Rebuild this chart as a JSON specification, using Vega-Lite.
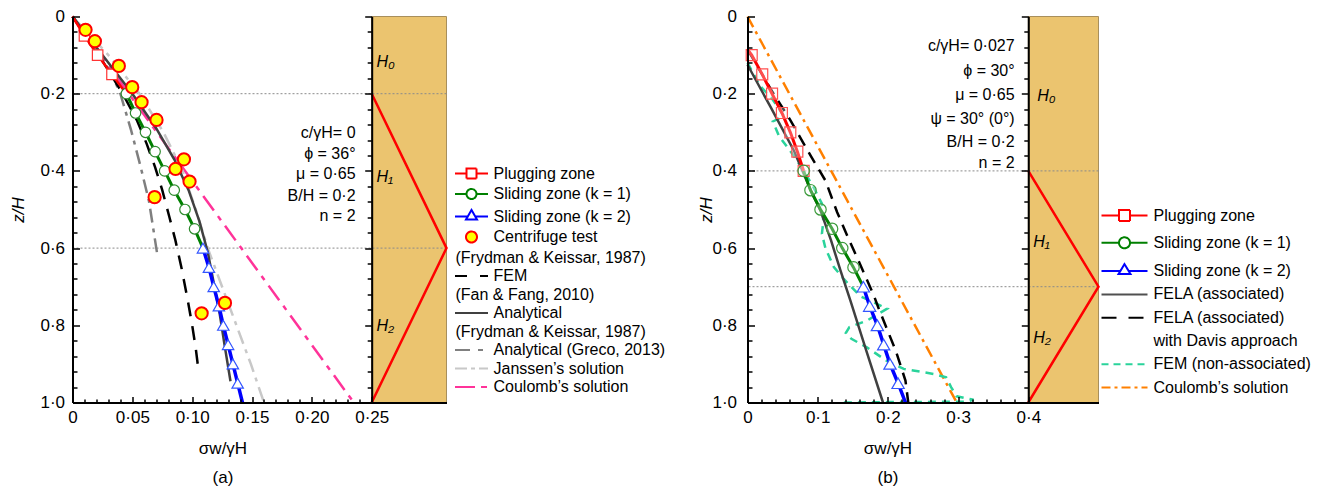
{
  "$schema": "https://vega.github.io/schema/vega-lite/v6.json",
  "background": "white",
  "padding": {"left": 9.5, "top": 7.5, "right": 5, "bottom": 5},
  "bounds": "flush",
  "spacing": 301,
  "datasets": {
    "a": [
      {"s": "plug", "x": 0, "z": 0}, {"s": "plug", "x": 0.010, "z": 0.05}, {"s": "plug", "x": 0.021, "z": 0.1}, {"s": "plug", "x": 0.033, "z": 0.15}, {"s": "plug", "x": 0.045, "z": 0.2},
      {"s": "k1", "x": 0.045, "z": 0.2}, {"s": "k1", "x": 0.0527, "z": 0.25}, {"s": "k1", "x": 0.061, "z": 0.3}, {"s": "k1", "x": 0.069, "z": 0.35}, {"s": "k1", "x": 0.077, "z": 0.4}, {"s": "k1", "x": 0.085, "z": 0.45}, {"s": "k1", "x": 0.094, "z": 0.5}, {"s": "k1", "x": 0.102, "z": 0.55}, {"s": "k1", "x": 0.109, "z": 0.6},
      {"s": "k2", "x": 0.109, "z": 0.6}, {"s": "k2", "x": 0.114, "z": 0.65}, {"s": "k2", "x": 0.118, "z": 0.7}, {"s": "k2", "x": 0.1223, "z": 0.75}, {"s": "k2", "x": 0.126, "z": 0.8}, {"s": "k2", "x": 0.130, "z": 0.85}, {"s": "k2", "x": 0.134, "z": 0.9}, {"s": "k2", "x": 0.138, "z": 0.95}, {"s": "k2", "x": 0.142, "z": 1.0},
      {"s": "cent", "x": 0.0109, "z": 0.0345}, {"s": "cent", "x": 0.0187, "z": 0.064}, {"s": "cent", "x": 0.0387, "z": 0.128}, {"s": "cent", "x": 0.0499, "z": 0.183}, {"s": "cent", "x": 0.0577, "z": 0.222}, {"s": "cent", "x": 0.0702, "z": 0.268}, {"s": "cent", "x": 0.0931, "z": 0.37}, {"s": "cent", "x": 0.0861, "z": 0.395}, {"s": "cent", "x": 0.0978, "z": 0.4275}, {"s": "cent", "x": 0.0686, "z": 0.468}, {"s": "cent", "x": 0.1274, "z": 0.742}, {"s": "cent", "x": 0.1079, "z": 0.769},
      {"s": "fem", "x": 0, "z": 0}, {"s": "fem", "x": 0.022, "z": 0.1}, {"s": "fem", "x": 0.042, "z": 0.2}, {"s": "fem", "x": 0.054, "z": 0.27}, {"s": "fem", "x": 0.062, "z": 0.33}, {"s": "fem", "x": 0.069, "z": 0.39}, {"s": "fem", "x": 0.075, "z": 0.45}, {"s": "fem", "x": 0.081, "z": 0.52}, {"s": "fem", "x": 0.086, "z": 0.58}, {"s": "fem", "x": 0.091, "z": 0.65}, {"s": "fem", "x": 0.096, "z": 0.73}, {"s": "fem", "x": 0.1, "z": 0.8}, {"s": "fem", "x": 0.103, "z": 0.86}, {"s": "fem", "x": 0.105, "z": 0.91},
      {"s": "fk", "x": 0, "z": 0}, {"s": "fk", "x": 0.025, "z": 0.1}, {"s": "fk", "x": 0.05, "z": 0.2}, {"s": "fk", "x": 0.07, "z": 0.29}, {"s": "fk", "x": 0.085, "z": 0.37}, {"s": "fk", "x": 0.097, "z": 0.45}, {"s": "fk", "x": 0.106, "z": 0.53}, {"s": "fk", "x": 0.113, "z": 0.61}, {"s": "fk", "x": 0.118, "z": 0.69}, {"s": "fk", "x": 0.123, "z": 0.77}, {"s": "fk", "x": 0.127, "z": 0.85}, {"s": "fk", "x": 0.132, "z": 0.945},
      {"s": "greco", "x": 0, "z": 0}, {"s": "greco", "x": 0.016, "z": 0.07}, {"s": "greco", "x": 0.032, "z": 0.144}, {"s": "greco", "x": 0.04, "z": 0.2}, {"s": "greco", "x": 0.049, "z": 0.295}, {"s": "greco", "x": 0.057, "z": 0.39}, {"s": "greco", "x": 0.064, "z": 0.48}, {"s": "greco", "x": 0.069, "z": 0.58}, {"s": "greco", "x": 0.071, "z": 0.62},
      {"s": "jans", "x": 0, "z": 0}, {"s": "jans", "x": 0.03, "z": 0.1}, {"s": "jans", "x": 0.056, "z": 0.2}, {"s": "jans", "x": 0.076, "z": 0.3}, {"s": "jans", "x": 0.092, "z": 0.4}, {"s": "jans", "x": 0.103, "z": 0.5}, {"s": "jans", "x": 0.113, "z": 0.6}, {"s": "jans", "x": 0.125, "z": 0.7}, {"s": "jans", "x": 0.137, "z": 0.8}, {"s": "jans", "x": 0.149, "z": 0.9}, {"s": "jans", "x": 0.16, "z": 1.0},
      {"s": "coul", "x": 0, "z": 0}, {"s": "coul", "x": 0.235, "z": 1.0}
    ],
    "b": [
      {"s": "plug", "x": 0, "z": 0.085}, {"s": "plug", "x": 0.006, "z": 0.1}, {"s": "plug", "x": 0.021, "z": 0.15}, {"s": "plug", "x": 0.035, "z": 0.2}, {"s": "plug", "x": 0.049, "z": 0.25}, {"s": "plug", "x": 0.061, "z": 0.3}, {"s": "plug", "x": 0.071, "z": 0.35}, {"s": "plug", "x": 0.080, "z": 0.4},
      {"s": "k1", "x": 0.080, "z": 0.4}, {"s": "k1", "x": 0.0897, "z": 0.45}, {"s": "k1", "x": 0.104, "z": 0.5}, {"s": "k1", "x": 0.1205, "z": 0.55}, {"s": "k1", "x": 0.135, "z": 0.6}, {"s": "k1", "x": 0.151, "z": 0.65}, {"s": "k1", "x": 0.165, "z": 0.7},
      {"s": "k2", "x": 0.165, "z": 0.7}, {"s": "k2", "x": 0.174, "z": 0.75}, {"s": "k2", "x": 0.185, "z": 0.8}, {"s": "k2", "x": 0.194, "z": 0.85}, {"s": "k2", "x": 0.203, "z": 0.9}, {"s": "k2", "x": 0.2145, "z": 0.95}, {"s": "k2", "x": 0.225, "z": 1.0},
      {"s": "fela", "x": 0, "z": 0.125}, {"s": "fela", "x": 0.033, "z": 0.235}, {"s": "fela", "x": 0.066, "z": 0.347}, {"s": "fela", "x": 0.09, "z": 0.45}, {"s": "fela", "x": 0.104, "z": 0.503}, {"s": "fela", "x": 0.119, "z": 0.58}, {"s": "fela", "x": 0.1324, "z": 0.658}, {"s": "fela", "x": 0.1466, "z": 0.736}, {"s": "fela", "x": 0.17, "z": 0.87}, {"s": "fela", "x": 0.193, "z": 1.0},
      {"s": "davis", "x": 0, "z": 0.085}, {"s": "davis", "x": 0.0327, "z": 0.187}, {"s": "davis", "x": 0.0612, "z": 0.269}, {"s": "davis", "x": 0.0897, "z": 0.36}, {"s": "davis", "x": 0.111, "z": 0.425}, {"s": "davis", "x": 0.1277, "z": 0.507}, {"s": "davis", "x": 0.144, "z": 0.576}, {"s": "davis", "x": 0.158, "z": 0.632}, {"s": "davis", "x": 0.18, "z": 0.723}, {"s": "davis", "x": 0.187, "z": 0.757}, {"s": "davis", "x": 0.211, "z": 0.865}, {"s": "davis", "x": 0.225, "z": 0.943}, {"s": "davis", "x": 0.229, "z": 1.0},
      {"s": "femn", "x": 0, "z": 0.12}, {"s": "femn", "x": 0.018, "z": 0.18}, {"s": "femn", "x": 0.035, "z": 0.213}, {"s": "femn", "x": 0.052, "z": 0.258}, {"s": "femn", "x": 0.036, "z": 0.272}, {"s": "femn", "x": 0.045, "z": 0.31}, {"s": "femn", "x": 0.064, "z": 0.356}, {"s": "femn", "x": 0.08, "z": 0.4}, {"s": "femn", "x": 0.094, "z": 0.442}, {"s": "femn", "x": 0.106, "z": 0.485}, {"s": "femn", "x": 0.108, "z": 0.53}, {"s": "femn", "x": 0.106, "z": 0.563}, {"s": "femn", "x": 0.111, "z": 0.6}, {"s": "femn", "x": 0.123, "z": 0.649}, {"s": "femn", "x": 0.137, "z": 0.68}, {"s": "femn", "x": 0.161, "z": 0.725}, {"s": "femn", "x": 0.199, "z": 0.757}, {"s": "femn", "x": 0.17, "z": 0.788}, {"s": "femn", "x": 0.145, "z": 0.805}, {"s": "femn", "x": 0.14, "z": 0.82}, {"s": "femn", "x": 0.148, "z": 0.835}, {"s": "femn", "x": 0.17, "z": 0.857}, {"s": "femn", "x": 0.199, "z": 0.893}, {"s": "femn", "x": 0.2225, "z": 0.913}, {"s": "femn", "x": 0.265, "z": 0.926}, {"s": "femn", "x": 0.283, "z": 0.935}, {"s": "femn", "x": 0.29, "z": 0.96}, {"s": "femn", "x": 0.298, "z": 0.984}, {"s": "femn", "x": 0.322, "z": 0.993}, {"s": "femn", "x": 0.31, "z": 0.998}, {"s": "femn", "x": 0.2, "z": 0.999}, {"s": "femn", "x": 0.137, "z": 1.0},
      {"s": "coul", "x": 0, "z": 0}, {"s": "coul", "x": 0.298, "z": 1.0}
    ],
    "wallA": [{"x0": 0.25, "x1": 0.3125, "z0": 0, "z1": 1}],
    "wallB": [{"x0": 0.4, "x1": 0.5, "z0": 0, "z1": 1}],
    "refA": [{"z": 0.2}, {"z": 0.6}],
    "refB": [{"z": 0.4}, {"z": 0.7}],
    "zoneA": [{"x": 0.25, "z": 0.2}, {"x": 0.3125, "z": 0.6}, {"x": 0.25, "z": 1.0}],
    "zoneB": [{"x": 0.4, "z": 0.4}, {"x": 0.5, "z": 0.7}, {"x": 0.4, "z": 1.0}],
    "hA": [{"t": "H₀", "x": 0.254, "z": 0.119}, {"t": "H₁", "x": 0.254, "z": 0.415}, {"t": "H₂", "x": 0.254, "z": 0.803}],
    "hB": [{"t": "H₀", "x": 0.4128, "z": 0.205}, {"t": "H₁", "x": 0.407, "z": 0.583}, {"t": "H₂", "x": 0.407, "z": 0.832}],
    "pA": [{"t": "c/γH= 0", "x": 0.2365, "z": 0.302}, {"t": "ϕ = 36°", "x": 0.2365, "z": 0.356}, {"t": "μ = 0·65", "x": 0.2365, "z": 0.409}, {"t": "B/H = 0·2", "x": 0.2365, "z": 0.464}, {"t": "n = 2", "x": 0.2365, "z": 0.518}],
    "pB": [{"t": "c/γH= 0·027", "x": 0.3805, "z": 0.0777}, {"t": "ϕ = 30°", "x": 0.3805, "z": 0.14}, {"t": "μ = 0·65", "x": 0.3805, "z": 0.203}, {"t": "ψ = 30° (0°)", "x": 0.3805, "z": 0.265}, {"t": "B/H = 0·2", "x": 0.3805, "z": 0.326}, {"t": "n = 2", "x": 0.3805, "z": 0.38}]
  },
  "hconcat": [
    {
      "width": 374,
      "height": 386,
      "resolve": {"axis": {"x": "independent", "y": "independent"}},
      "layer": [
        {
          "data": {"name": "wallA"},
          "mark": {"type": "rect", "fill": "#ebc46f", "stroke": "#a88f5c", "strokeWidth": 1},
          "encoding": {
            "x": {"field": "x0", "type": "quantitative", "scale": {"domain": [0, 0.3125], "nice": false, "zero": false},
              "axis": {"orient": "bottom", "labels": false, "domain": false, "title": null, "zindex": 1, "tickSize": -3.5,
                "values": [0.01,0.02,0.03,0.04,0.06,0.07,0.08,0.09,0.11,0.12,0.13,0.14,0.16,0.17,0.18,0.19,0.21,0.22,0.23,0.24]}},
            "x2": {"field": "x1"},
            "y": {"field": "z0", "type": "quantitative", "scale": {"domain": [0, 1], "reverse": true, "nice": false, "zero": false},
              "axis": {"orient": "right", "offset": -74.8, "labels": false, "title": null, "zindex": 1,
                "values": [0,0.04,0.08,0.12,0.16,0.2,0.24,0.28,0.32,0.36,0.4,0.44,0.48,0.52,0.56,0.6,0.64,0.68,0.72,0.76,0.8,0.84,0.88,0.92,0.96,1],
                "tickSize": {"condition": {"test": "abs(datum.value*5-round(datum.value*5))<0.001", "value": -7}, "value": -4.5}}},
            "y2": {"field": "z1"}
          }
        },
        {
          "data": {"name": "refA"},
          "mark": {"type": "rule", "stroke": "#8a8a8a", "strokeWidth": 1, "strokeDash": [2, 2]},
          "encoding": {"y": {"field": "z", "type": "quantitative", "scale": {"domain": [0, 1], "reverse": true, "nice": false, "zero": false}, "axis": null}}
        },
        {
          "data": {"name": "a"},
          "encoding": {
            "x": {"field": "x", "type": "quantitative", "scale": {"domain": [0, 0.3125], "nice": false, "zero": false},
              "axis": {"orient": "bottom", "zindex": 1, "labelOverlap": false, "labelFlush": false, "labelBound": false,
                "values": [0, 0.05, 0.1, 0.15, 0.2, 0.25],
                "labelExpr": "datum.value==0 ? '0' : replace(format(datum.value,'.2f'),'.','·')",
                "tickSize": -6,
                "labelPadding": 12.5,
                "title": ["σw/γH", "(a)"], "titleX": 150, "titleY": 38, "titleAlign": "center", "titleBaseline": "top", "titleLineHeight": 29}},
            "y": {"field": "z", "type": "quantitative", "scale": {"domain": [0, 1], "reverse": true, "nice": false, "zero": false},
              "axis": {"orient": "left", "zindex": 1, "labelOverlap": false,
                "values": [0,0.04,0.08,0.12,0.16,0.2,0.24,0.28,0.32,0.36,0.4,0.44,0.48,0.52,0.56,0.6,0.64,0.68,0.72,0.76,0.8,0.84,0.88,0.92,0.96,1],
                "labelExpr": "abs(datum.value*5-round(datum.value*5))<0.001 ? (datum.value==0 ? '0' : replace(format(datum.value,'.1f'),'.','·')) : ''",
                "tickSize": {"condition": {"test": "abs(datum.value*5-round(datum.value*5))<0.001", "value": -7}, "value": -4.5},
                "labelPadding": 15,
                "title": "z/H", "titleFontStyle": "italic", "titleAngle": 270, "titleX": -54, "titleY": 193, "titleAlign": "center", "titleBaseline": "middle"}},
            "order": {"value": null}
          },
          "layer": [
            {"transform": [{"filter": "datum.s=='coul'"}], "mark": {"type": "line", "stroke": "#ff3399", "strokeWidth": 2.5, "strokeDash": [18, 7, 5, 7]}},
            {"transform": [{"filter": "datum.s=='jans'"}], "mark": {"type": "line", "stroke": "#c8c8c8", "strokeWidth": 2.5, "strokeDash": [14, 6, 4, 6]}},
            {"transform": [{"filter": "datum.s=='greco'"}], "mark": {"type": "line", "stroke": "#7f7f7f", "strokeWidth": 2.5, "strokeDash": [14, 6, 4, 6]}},
            {"transform": [{"filter": "datum.s=='fem'"}], "mark": {"type": "line", "stroke": "#000000", "strokeWidth": 2.5, "strokeDash": [14, 10]}},
            {"transform": [{"filter": "datum.s=='fk'"}], "mark": {"type": "line", "stroke": "#404040", "strokeWidth": 2.5}},
            {"transform": [{"filter": "datum.s=='plug'"}], "mark": {"type": "line", "stroke": "#ff0000", "strokeWidth": 2.5}},
            {"transform": [{"filter": "datum.s=='k1'"}], "mark": {"type": "line", "stroke": "#008000", "strokeWidth": 3}},
            {"transform": [{"filter": "datum.s=='k2'"}], "mark": {"type": "line", "stroke": "#0000ff", "strokeWidth": 3.5}},
            {"transform": [{"filter": "datum.s=='plug' && datum.z>0 && datum.z<0.19"}], "mark": {"type": "point", "shape": "square", "filled": true, "fill": "#ffffff", "stroke": "#ff3333", "strokeWidth": 1.2, "size": 110, "opacity": 1}},
            {"transform": [{"filter": "datum.s=='k1' && datum.z<0.58"}], "mark": {"type": "point", "shape": "circle", "filled": true, "fill": "#ffffff", "stroke": "#2e8b2e", "strokeWidth": 1.2, "size": 110, "opacity": 1}},
            {"transform": [{"filter": "datum.s=='k2' && datum.z<0.98"}], "mark": {"type": "point", "shape": "triangle-up", "filled": true, "fill": "#ffffff", "stroke": "#3355ff", "strokeWidth": 1.2, "size": 130, "opacity": 1}},
            {"transform": [{"filter": "datum.s=='cent'"}], "mark": {"type": "point", "shape": "circle", "filled": true, "fill": "#ffff00", "stroke": "#ff0000", "strokeWidth": 2, "size": 150, "opacity": 1}},
            {"data": {"name": "zoneA"}, "mark": {"type": "line", "stroke": "#ff0000", "strokeWidth": 2.5}},
            {"data": {"name": "hA"}, "mark": {"type": "text", "align": "left", "baseline": "middle", "fontSize": 16, "fontStyle": "italic", "font": "Liberation Sans", "color": "#000"}, "encoding": {"text": {"field": "t", "type": "nominal"}}},
            {"data": {"name": "pA"}, "mark": {"type": "text", "align": "right", "baseline": "middle", "fontSize": 16, "font": "Liberation Sans", "color": "#000"}, "encoding": {"text": {"field": "t", "type": "nominal"}}},
            {
              "transform": [{"filter": "false"}],
              "mark": {"type": "point", "opacity": 1},
              "encoding": {
                "shape": {"field": "s", "type": "nominal",
                  "scale": {"domain": ["Plugging zone", "Sliding zone (k = 1)", "Sliding zone (k = 2)", "Centrifuge test", "(Frydman & Keissar, 1987)", "FEM", "(Fan & Fang, 2010)", "Analytical", "(Frydman & Keissar, 1987) ", "Analytical (Greco, 2013)", "Janssen’s solution", "Coulomb’s solution"],
                    "range": ["M-3.3,0H-1M1,0H3.3M-1,-1H1V1H-1Z", "M-3.3,0H-1M1,0H3.3M1,0A1,1 0 1,1 -1,0A1,1 0 1,1 1,0Z", "M-3.3,0H-0.75M0.75,0H3.3M0,-1.3L1.1,0.6H-1.1Z", "M1.1,0A1.1,1.1 0 1,1 -1.1,0A1.1,1.1 0 1,1 1.1,0Z", "M0,0H0.01", "M-3.3,0H3.3", "M0,0H0.01", "M-3.3,0H3.3", "M0,0H0.01", "M-3.3,0H3.3", "M-3.3,0H3.3", "M-3.3,0H3.3"]},
                  "legend": {"orient": "none", "legendX": 391, "legendY": 149, "title": null, "padding": 0, "symbolSize": 100, "symbolStrokeWidth": 2, "symbolOpacity": 1, "labelFont": "Liberation Sans", "labelFontSize": 16, "labelColor": "#000", "labelLimit": 400, "labelOffset": 14, "rowPadding": 2.5,
                    "encode": {"labels": {"update": {"dx": {"signal": "substring(datum.value,0,1)=='(' ? -38 : 0"}}}}}},
                "stroke": {"field": "s", "type": "nominal",
                  "scale": {"domain": ["Plugging zone", "Sliding zone (k = 1)", "Sliding zone (k = 2)", "Centrifuge test", "(Frydman & Keissar, 1987)", "FEM", "(Fan & Fang, 2010)", "Analytical", "(Frydman & Keissar, 1987) ", "Analytical (Greco, 2013)", "Janssen’s solution", "Coulomb’s solution"],
                    "range": ["#ff0000", "#008000", "#0000ff", "#ff0000", "transparent", "#000000", "transparent", "#404040", "transparent", "#808080", "#c8c8c8", "#ff3399"]},
                  "legend": {"orient": "none", "legendX": 391, "legendY": 149, "title": null, "padding": 0, "symbolSize": 100, "symbolStrokeWidth": 2, "symbolOpacity": 1, "labelFont": "Liberation Sans", "labelFontSize": 16, "labelColor": "#000", "labelLimit": 400, "labelOffset": 14, "rowPadding": 2.5,
                    "encode": {"labels": {"update": {"dx": {"signal": "substring(datum.value,0,1)=='(' ? -38 : 0"}}}}}},
                "fill": {"field": "s", "type": "nominal",
                  "scale": {"domain": ["Plugging zone", "Sliding zone (k = 1)", "Sliding zone (k = 2)", "Centrifuge test", "(Frydman & Keissar, 1987)", "FEM", "(Fan & Fang, 2010)", "Analytical", "(Frydman & Keissar, 1987) ", "Analytical (Greco, 2013)", "Janssen’s solution", "Coulomb’s solution"],
                    "range": ["#ffffff", "#ffffff", "#ffffff", "#ffff00", "transparent", "transparent", "transparent", "transparent", "transparent", "transparent", "transparent", "transparent"]},
                  "legend": {"orient": "none", "legendX": 391, "legendY": 149, "title": null, "padding": 0, "symbolSize": 100, "symbolStrokeWidth": 2, "symbolOpacity": 1, "labelFont": "Liberation Sans", "labelFontSize": 16, "labelColor": "#000", "labelLimit": 400, "labelOffset": 14, "rowPadding": 2.5,
                    "encode": {"labels": {"update": {"dx": {"signal": "substring(datum.value,0,1)=='(' ? -38 : 0"}}}}}},
                "strokeDash": {"field": "s", "type": "nominal",
                  "scale": {"domain": ["Plugging zone", "Sliding zone (k = 1)", "Sliding zone (k = 2)", "Centrifuge test", "(Frydman & Keissar, 1987)", "FEM", "(Fan & Fang, 2010)", "Analytical", "(Frydman & Keissar, 1987) ", "Analytical (Greco, 2013)", "Janssen’s solution", "Coulomb’s solution"],
                    "range": [[1, 0], [1, 0], [1, 0], [1, 0], [1, 0], [12, 13], [1, 0], [1, 0], [1, 0], [15, 8, 5, 8], [12, 4, 4, 4], [20, 6, 6, 6]]},
                  "legend": {"orient": "none", "legendX": 391, "legendY": 149, "title": null, "padding": 0, "symbolSize": 100, "symbolStrokeWidth": 2, "symbolOpacity": 1, "labelFont": "Liberation Sans", "labelFontSize": 16, "labelColor": "#000", "labelLimit": 400, "labelOffset": 14, "rowPadding": 2.5,
                    "encode": {"labels": {"update": {"dx": {"signal": "substring(datum.value,0,1)=='(' ? -38 : 0"}}}}}}
              }
            }
          ]
        }
      ]
    },
    {
      "width": 351,
      "height": 386,
      "resolve": {"axis": {"x": "independent", "y": "independent"}},
      "layer": [
        {
          "data": {"name": "wallB"},
          "mark": {"type": "rect", "fill": "#ebc46f", "stroke": "#a88f5c", "strokeWidth": 1},
          "encoding": {
            "x": {"field": "x0", "type": "quantitative", "scale": {"domain": [0, 0.5], "nice": false, "zero": false},
              "axis": {"orient": "bottom", "labels": false, "domain": false, "title": null, "zindex": 1, "tickSize": -3.5,
                "values": [0.02,0.04,0.06,0.08,0.12,0.14,0.16,0.18,0.22,0.24,0.26,0.28,0.32,0.34,0.36,0.38]}},
            "x2": {"field": "x1"},
            "y": {"field": "z0", "type": "quantitative", "scale": {"domain": [0, 1], "reverse": true, "nice": false, "zero": false},
              "axis": {"orient": "right", "offset": -70.2, "labels": false, "title": null, "zindex": 1,
                "values": [0,0.04,0.08,0.12,0.16,0.2,0.24,0.28,0.32,0.36,0.4,0.44,0.48,0.52,0.56,0.6,0.64,0.68,0.72,0.76,0.8,0.84,0.88,0.92,0.96,1],
                "tickSize": {"condition": {"test": "abs(datum.value*5-round(datum.value*5))<0.001", "value": -7}, "value": -4.5}}},
            "y2": {"field": "z1"}
          }
        },
        {
          "data": {"name": "refB"},
          "mark": {"type": "rule", "stroke": "#8a8a8a", "strokeWidth": 1, "strokeDash": [2, 2]},
          "encoding": {"y": {"field": "z", "type": "quantitative", "scale": {"domain": [0, 1], "reverse": true, "nice": false, "zero": false}, "axis": null}}
        },
        {
          "data": {"name": "b"},
          "encoding": {
            "x": {"field": "x", "type": "quantitative", "scale": {"domain": [0, 0.5], "nice": false, "zero": false},
              "axis": {"orient": "bottom", "zindex": 1, "labelOverlap": false, "labelFlush": false, "labelBound": false,
                "values": [0, 0.1, 0.2, 0.3, 0.4],
                "labelExpr": "datum.value==0 ? '0' : replace(format(datum.value,'.1f'),'.','·')",
                "tickSize": -6,
                "labelPadding": 12.5,
                "title": ["σw/γH", "(b)"], "titleX": 140, "titleY": 38, "titleAlign": "center", "titleBaseline": "top", "titleLineHeight": 29}},
            "y": {"field": "z", "type": "quantitative", "scale": {"domain": [0, 1], "reverse": true, "nice": false, "zero": false},
              "axis": {"orient": "left", "zindex": 1, "labelOverlap": false,
                "values": [0,0.04,0.08,0.12,0.16,0.2,0.24,0.28,0.32,0.36,0.4,0.44,0.48,0.52,0.56,0.6,0.64,0.68,0.72,0.76,0.8,0.84,0.88,0.92,0.96,1],
                "labelExpr": "abs(datum.value*5-round(datum.value*5))<0.001 ? (datum.value==0 ? '0' : replace(format(datum.value,'.1f'),'.','·')) : ''",
                "tickSize": {"condition": {"test": "abs(datum.value*5-round(datum.value*5))<0.001", "value": -7}, "value": -4.5},
                "labelPadding": 18,
                "title": "z/H", "titleFontStyle": "italic", "titleAngle": 270, "titleX": -41, "titleY": 193, "titleAlign": "center", "titleBaseline": "middle"}},
            "order": {"value": null}
          },
          "layer": [
            {"transform": [{"filter": "datum.s=='coul'"}], "mark": {"type": "line", "stroke": "#ff8000", "strokeWidth": 2.5, "strokeDash": [12, 5, 3, 5]}},
            {"transform": [{"filter": "datum.s=='femn'"}], "mark": {"type": "line", "stroke": "#2ad39b", "strokeWidth": 2.5, "strokeDash": [8, 6]}},
            {"transform": [{"filter": "datum.s=='davis'"}], "mark": {"type": "line", "stroke": "#000000", "strokeWidth": 2.5, "strokeDash": [12, 8]}},
            {"transform": [{"filter": "datum.s=='fela'"}], "mark": {"type": "line", "stroke": "#404040", "strokeWidth": 2.5}},
            {"transform": [{"filter": "datum.s=='plug'"}], "mark": {"type": "line", "stroke": "#ff0000", "strokeWidth": 3}},
            {"transform": [{"filter": "datum.s=='k1'"}], "mark": {"type": "line", "stroke": "#008000", "strokeWidth": 3}},
            {"transform": [{"filter": "datum.s=='k2'"}], "mark": {"type": "line", "stroke": "#0000ff", "strokeWidth": 3.5}},
            {"transform": [{"filter": "datum.s=='plug' && datum.z>0.09"}], "mark": {"type": "point", "shape": "square", "filled": true, "fill": "#ffffff", "fillOpacity": 0.3, "stroke": "#ff5050", "strokeWidth": 1.2, "size": 120, "opacity": 1}},
            {"transform": [{"filter": "datum.s=='k1' && datum.z<0.68"}], "mark": {"type": "point", "shape": "circle", "filled": true, "fill": "#ffffff", "fillOpacity": 0.3, "stroke": "#3a9a3a", "strokeWidth": 1.2, "size": 130, "opacity": 1}},
            {"transform": [{"filter": "datum.s=='k2' && datum.z<0.98"}], "mark": {"type": "point", "shape": "triangle-up", "filled": true, "fill": "#ffffff", "stroke": "#3355ff", "strokeWidth": 1.2, "size": 150, "opacity": 1}},
            {"data": {"name": "zoneB"}, "mark": {"type": "line", "stroke": "#ff0000", "strokeWidth": 2.5}},
            {"data": {"name": "hB"}, "mark": {"type": "text", "align": "left", "baseline": "middle", "fontSize": 16, "fontStyle": "italic", "font": "Liberation Sans", "color": "#000"}, "encoding": {"text": {"field": "t", "type": "nominal"}}},
            {"data": {"name": "pB"}, "mark": {"type": "text", "align": "right", "baseline": "middle", "fontSize": 16, "font": "Liberation Sans", "color": "#000"}, "encoding": {"text": {"field": "t", "type": "nominal"}}},
            {
              "transform": [{"filter": "false"}],
              "mark": {"type": "point", "opacity": 1},
              "encoding": {
                "shape": {"field": "s", "type": "nominal",
                  "scale": {"domain": ["Plugging zone", "Sliding zone (k = 1)", "Sliding zone (k = 2)", "FELA (associated)", "FELA (associated) ", "with Davis approach", "FEM (non-associated)", "Coulomb’s solution"],
                    "range": ["M-4.6,0H-1.1M1.1,0H4.6M-1.1,-1.1H1.1V1.1H-1.1Z", "M-4.6,0H-1.1M1.1,0H4.6M1.1,0A1.1,1.1 0 1,1 -1.1,0A1.1,1.1 0 1,1 1.1,0Z", "M-4.6,0H-0.8M0.8,0H4.6M0,-1.4L1.2,0.6H-1.2Z", "M-4.6,0H4.6", "M-4.6,0H4.6", "M0,0H0.01", "M-4.6,0H4.6", "M-4.6,0H4.6"]},
                  "legend": {"orient": "none", "legendX": 369, "legendY": 191, "title": null, "padding": 0, "symbolSize": 100, "symbolStrokeWidth": 2, "symbolOpacity": 1, "labelFont": "Liberation Sans", "labelFontSize": 16, "labelColor": "#000", "labelLimit": 400, "labelOffset": 21, "rowPadding": 7.3}},
                "stroke": {"field": "s", "type": "nominal",
                  "scale": {"domain": ["Plugging zone", "Sliding zone (k = 1)", "Sliding zone (k = 2)", "FELA (associated)", "FELA (associated) ", "with Davis approach", "FEM (non-associated)", "Coulomb’s solution"],
                    "range": ["#ff0000", "#008000", "#0000ff", "#505050", "#000000", "transparent", "#2ad39b", "#ff8000"]},
                  "legend": {"orient": "none", "legendX": 369, "legendY": 191, "title": null, "padding": 0, "symbolSize": 100, "symbolStrokeWidth": 2, "symbolOpacity": 1, "labelFont": "Liberation Sans", "labelFontSize": 16, "labelColor": "#000", "labelLimit": 400, "labelOffset": 21, "rowPadding": 7.3}},
                "fill": {"field": "s", "type": "nominal",
                  "scale": {"domain": ["Plugging zone", "Sliding zone (k = 1)", "Sliding zone (k = 2)", "FELA (associated)", "FELA (associated) ", "with Davis approach", "FEM (non-associated)", "Coulomb’s solution"],
                    "range": ["#ffffff", "#ffffff", "#ffffff", "transparent", "transparent", "transparent", "transparent", "transparent"]},
                  "legend": {"orient": "none", "legendX": 369, "legendY": 191, "title": null, "padding": 0, "symbolSize": 100, "symbolStrokeWidth": 2, "symbolOpacity": 1, "labelFont": "Liberation Sans", "labelFontSize": 16, "labelColor": "#000", "labelLimit": 400, "labelOffset": 21, "rowPadding": 7.3}},
                "strokeDash": {"field": "s", "type": "nominal",
                  "scale": {"domain": ["Plugging zone", "Sliding zone (k = 1)", "Sliding zone (k = 2)", "FELA (associated)", "FELA (associated) ", "with Davis approach", "FEM (non-associated)", "Coulomb’s solution"],
                    "range": [[1, 0], [1, 0], [1, 0], [1, 0], [15, 12], [1, 0], [7, 5], [9, 4, 3, 4]]},
                  "legend": {"orient": "none", "legendX": 369, "legendY": 191, "title": null, "padding": 0, "symbolSize": 100, "symbolStrokeWidth": 2, "symbolOpacity": 1, "labelFont": "Liberation Sans", "labelFontSize": 16, "labelColor": "#000", "labelLimit": 400, "labelOffset": 21, "rowPadding": 7.3}}
              }
            }
          ]
        }
      ]
    }
  ],
  "resolve": {
    "scale": {"stroke": "independent", "fill": "independent", "shape": "independent", "strokeDash": "independent"},
    "legend": {"stroke": "independent", "fill": "independent", "shape": "independent", "strokeDash": "independent"}
  },
  "config": {
    "view": {"stroke": null},
    "font": "Liberation Sans",
    "axis": {"labelFont": "Liberation Sans", "labelFontSize": 17, "labelColor": "#000", "titleFont": "Liberation Sans", "titleFontSize": 17, "titleFontWeight": "normal", "titleColor": "#000", "domainColor": "#000", "domainWidth": 2, "tickColor": "#000", "tickWidth": 1.5, "grid": false, "labelFlush": false, "labelOverlap": false, "labelBound": false}
  }
}
